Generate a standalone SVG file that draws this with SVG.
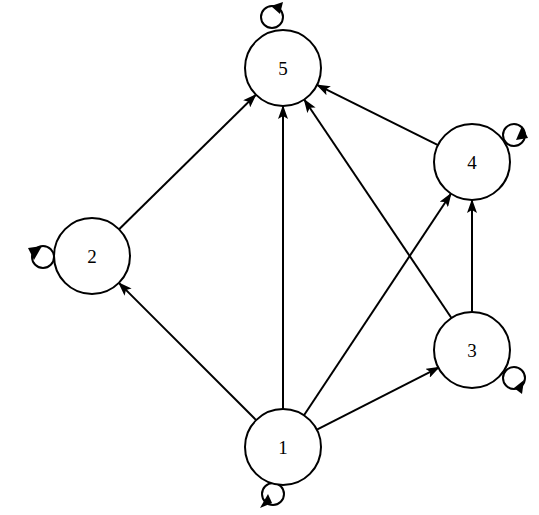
<svg xmlns="http://www.w3.org/2000/svg" width="539" height="515" viewBox="0 0 539 515">
<style>
.node circle{fill:#fff;stroke:#000;stroke-width:2}
.node text{font-family:"Liberation Serif",serif;font-size:19px;text-anchor:middle;dominant-baseline:central;fill:#000}
.edge{stroke:#000;stroke-width:2;fill:none}
.loop{stroke:#000;stroke-width:2;fill:none}
.head{fill:#000}
</style>
<defs>
<marker id="arr" markerWidth="14" markerHeight="10" refX="13" refY="5" orient="auto" markerUnits="userSpaceOnUse">
<path d="M0,0 L14,5 L0,10 L3,5 Z" fill="#000"/>
</marker>
</defs>
<g id="connectors">
<line class="edge" x1="256.1" y1="420.1" x2="118.9" y2="282.9" marker-end="url(#arr)"/>
<line class="edge" x1="283" y1="409" x2="283" y2="106" marker-end="url(#arr)"/>
<line class="edge" x1="304" y1="415.3" x2="451" y2="193.7" marker-end="url(#arr)"/>
<line class="edge" x1="316.9" y1="429.7" x2="439.1" y2="367.3" marker-end="url(#arr)"/>
<line class="edge" x1="119.1" y1="229.3" x2="255.9" y2="94.7" marker-end="url(#arr)"/>
<line class="edge" x1="451.8" y1="318.5" x2="304.2" y2="99.5" marker-end="url(#arr)"/>
<line class="edge" x1="472" y1="312" x2="472" y2="200" marker-end="url(#arr)"/>
<line class="edge" x1="438" y1="145.1" x2="317" y2="84.9" marker-end="url(#arr)"/>
</g>
<g id="node5" class="node">
<circle class="loop" cx="272" cy="17" r="11"/>
<polygon class="head" points="271,6 283,2 280,14"/>
<circle cx="283" cy="68" r="38"/>
<text x="283" y="68">5</text>
</g>
<g id="node4" class="node">
<circle class="loop" cx="514" cy="135" r="11"/>
<polygon class="head" points="522,126 528,138 516,140"/>
<circle cx="472" cy="162" r="38"/>
<text x="472" y="162">4</text>
</g>
<g id="node2" class="node">
<circle class="loop" cx="43" cy="257" r="11"/>
<polygon class="head" points="28,248 42,246 34,260"/>
<circle cx="92" cy="256" r="38"/>
<text x="92" y="256">2</text>
</g>
<g id="node3" class="node">
<circle class="loop" cx="514" cy="378" r="11"/>
<polygon class="head" points="514,388 524,380 522,394"/>
<circle cx="472" cy="350" r="38"/>
<text x="472" y="350">3</text>
</g>
<g id="node1" class="node">
<circle class="loop" cx="273" cy="494" r="11"/>
<polygon class="head" points="272,503 260,508 268,494"/>
<circle cx="283" cy="447" r="38"/>
<text x="283" y="447">1</text>
</g>
</svg>
